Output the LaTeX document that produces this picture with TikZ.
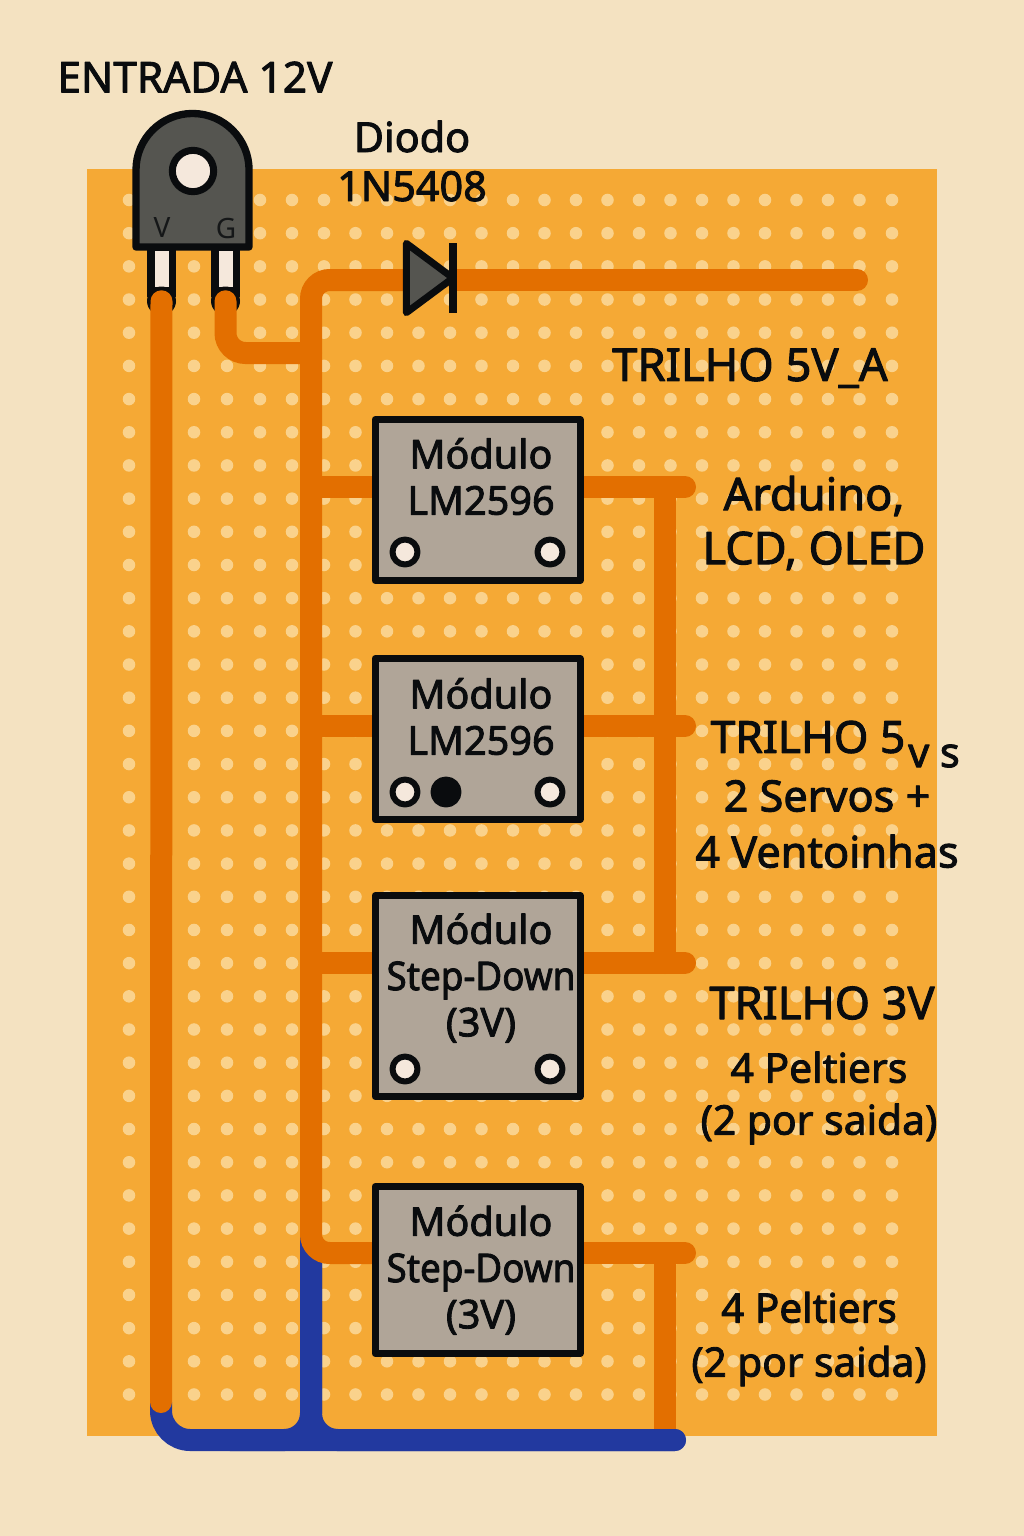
\documentclass[tikz,border=0pt]{standalone}
\usepackage{fontspec}
\setmainfont{Noto Sans}
\newfontfamily\lblfont[FakeBold=2.2]{Noto Sans}
\usetikzlibrary{positioning,shapes.geometric}
\definecolor{paper}{HTML}{F4E2C1}
\definecolor{board}{HTML}{F5A935}
\definecolor{hole}{HTML}{FAD28C}
\definecolor{copper}{HTML}{E36F00}
\definecolor{gnd}{HTML}{22399F}
\definecolor{modgray}{HTML}{B0A598}
\definecolor{ink}{HTML}{0A0C0E}
\definecolor{body}{HTML}{555550}
\definecolor{pinw}{HTML}{F5E8DC}
\pgfdeclarelayer{base}
\pgfdeclarelayer{tracks}
\pgfsetlayers{base,tracks,main}
\newcommand{\stepdown}{\scalebox{.93}[1]{Step-Down}}
\tikzset{
  module/.style={rectangle, draw=ink, fill=modgray, line width=5.25pt, minimum width=153.75pt},
  pad/.style={circle, draw=ink, fill=pinw, line width=4.5pt, minimum size=18.75pt, inner sep=0pt},
  modtext/.style={align=center, text=ink, font=\lblfont\fontsize{29.7}{34.7}\selectfont},
  lbl/.style 2 args={align=center, text=ink, font=\lblfont\fontsize{#1}{#2}\selectfont},
  pin/.style={rectangle, fill=ink, minimum width=21.75pt, minimum height=35.25pt, inner sep=0pt},
  pinhole/.style={rectangle, fill=pinw, minimum width=10.5pt, minimum height=27pt, inner sep=0pt},
  pintop/.style={circle, fill=ink, minimum size=21.75pt, inner sep=0pt},
  trace/.style={draw=copper, line width=16.5pt, line cap=round},
  gndtrace/.style={draw=gnd, line width=16.5pt, line cap=round}
}
\begin{document}
\begin{tikzpicture}[x=.75pt, y=-.75pt, on grid, line join=round]
   \useasboundingbox (0,0) rectangle (1024,1536);
   \begin{pgfonlayer}{base}
   \fill[paper] (0,0) rectangle (1024,1536);
   \fill[board] (87,169) rectangle (937,1436);
   \foreach \k in {0,...,36}
     \foreach \c in {129,161,194,227,260,292,324,355.5,387,418.5,450,481.5,513,544.5,576,607.5,639,670.5,702,733.5,765,796.5,828,859.5,892}
       \fill[hole] (\c,200+33.18*\k) circle (4.7pt);
   \node[pin]     (pinV) at (161.5,273.5) {};
   \node[pin]     (pinG) at (225.5,273.5) {};
   \node[pinhole] (holeV) at (161.5,269) {};
   \node[pinhole] (holeG) at (225.5,269) {};
   \node[pintop]  (capV) at (161.5,301) {};
   \node[pintop]  (capG) at (225.5,301) {};
   \end{pgfonlayer}

   % connector
   \draw[draw=ink, fill=body, line width=5.5pt] (136,247) -- (136,170) arc[start angle=180, end angle=0, radius=42.4pt] -- (249,247) -- cycle;
   \node[pad, minimum size=31pt, line width=5.25pt] (mount) at (193,171) {};
   \node[text=ink!85!body, font=\fontsize{21}{21}\selectfont] (tV) at (162,227) {V};
   \node[text=ink!85!body, font=\fontsize{21}{21}\selectfont] (tG) at (226,228) {G};

   % diode
   \node[isosceles triangle, isosceles triangle stretches, draw=ink, fill=body, line width=5.25pt, minimum width=52pt, minimum height=35pt, inner sep=0pt, outer sep=0pt, anchor=apex] (diode) at (453,278) {};
   \node[rectangle, fill=ink, minimum width=6pt, minimum height=52pt, inner sep=0pt] (bar) at (453,278) {};

   % modules
   \node[module, minimum height=120.75pt] (m_1) at (477.5,500) {};
   \node[module, minimum height=120.75pt] (m_2) [below=179.25pt of m_1] {};
   \node[module, minimum height=150.75pt] (m_3) [below=192.75pt of m_2] {};
   \node[module, minimum height=125.25pt] (m_4) [below=205.5pt of m_3] {};
   \node[pad] (p_1a) at (405,552) {};
   \node[pad] (p_1b) at (550,552) {};
   \node[pad] (p_2a) at (405,792) {};
   \node[pad, fill=ink] (p_2c) at (446,792) {};
   \node[pad] (p_2b) at (550,792) {};
   \node[pad] (p_3a) at (405,1069) {};
   \node[pad] (p_3b) at (550,1069) {};
   \node[modtext] (t_1) at (481,476.5) {Módulo\\LM2596};
   \node[modtext] (t_2) at (481,716.5) {Módulo\\LM2596};
   \node[modtext] (t_3) at (481,978) {Módulo\\\stepdown\\(3V)};
   \node[modtext] (t_4) at (481,1270) {Módulo\\\stepdown\\(3V)};

   % labels
   \node[lbl={31.8}{38}]   (l_in)   at (195,77)   {ENTRADA 12V};
   \node[lbl={31}{36.75}]  (l_dio)  at (412,161)  {Diodo\\1N5408};
   \node[lbl={34}{40}]     (l_5a)   at (750,368)  {TRILHO 5V\_A};
   \node[lbl={33.8}{40.5}] (l_ard)  at (814,523)  {Arduino,\\LCD, OLED};
   \node[lbl={33.2}{40}]   (l_5v)   at (808,737)  {TRILHO 5};
   \node[lbl={31}{38}]     (l_vs)   at (934,756)  {v s};
   \node[lbl={32.4}{42}]   (l_serv) at (827,824)  {2 Servos +\\4 Ventoinhas};
   \node[lbl={33.8}{40}]   (l_3v)   at (822,1003) {TRILHO 3V};
   \node[lbl={30.6}{39}]   (l_p1)   at (819,1098) {4 Peltiers\\(2 por saida)};
   \node[lbl={30.4}{40.5}] (l_p2)   at (809,1339) {4 Peltiers\\(2 por saida)};

   \coordinate (c_top) at (311,280);
   \coordinate (c_gnd) at (311,353);
   \coordinate (c_1) at (311,487);
   \coordinate (c_2) at (311,726);
   \coordinate (c_3) at (311,963);
   \coordinate (c_4) at (311,1253);
   \coordinate (o_1) at (685,487);
   \coordinate (o_2) at (685,726);
   \coordinate (o_3) at (685,963);
   \coordinate (o_4) at (685,1253);
   \coordinate (r_1) at (665,487);
   \coordinate (r_3) at (665,963);
   \coordinate (r_4) at (665,1253);
   \coordinate (rail) at (857,280);
   \coordinate (b_v) at (161,1402);
   \coordinate (b_l) at (161,1440);
   \coordinate (b_m) at (230,1440);
   \coordinate (b_t) at (311,1440);
   \coordinate (b_r) at (675,1440);
   \coordinate (b_s) at (311,1240);

   \begin{pgfonlayer}{tracks}
   \path (r_1) edge[trace] (r_3)
         (r_4) edge[trace] (r_4 |- b_r);
   \draw[gndtrace, rounded corners=22pt] (b_v) -- (b_l) -- (b_r);
   \draw[gndtrace, rounded corners=20pt] (b_s) -- (b_t) -- (b_r);
   \draw[gndtrace, rounded corners=20pt] (b_s) -- (b_t) -- (b_m);
   \path ([yshift=-3pt]pinV.south) edge[trace] (b_v)
         (c_1) edge[trace] (c_1 -| m_1.west)
         (c_2) edge[trace] (c_2 -| m_2.west)
         (c_3) edge[trace] (c_3 -| m_3.west)
         (o_1 -| m_1.east) edge[trace] (o_1)
         (o_2 -| m_2.east) edge[trace] (o_2)
         (o_3 -| m_3.east) edge[trace] (o_3)
         (o_4 -| m_4.east) edge[trace] (o_4)
         (bar.east |- rail) edge[trace] (rail);
   \draw[trace, rounded corners=15pt] ([yshift=-3pt]pinG.south) -- (pinG |- c_gnd) -- (c_gnd);
   \draw[trace, rounded corners=14pt] (diode.west |- c_top) -- (c_top) -- (c_4) -- (c_4 -| m_4.west);
   \end{pgfonlayer}
\end{tikzpicture}
\end{document}
